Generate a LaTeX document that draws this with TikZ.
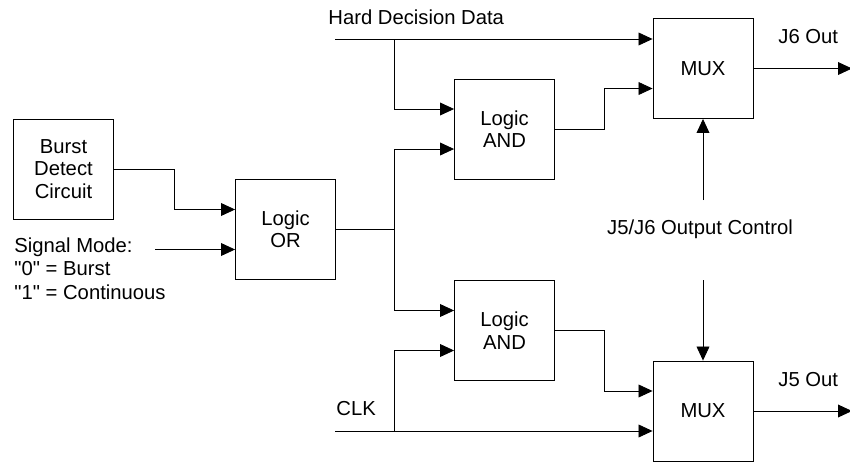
\documentclass[tikz,border=0pt]{standalone}
\usepackage{fontspec}
\setmainfont{Liberation Sans}
\usetikzlibrary{arrows.meta}

\tikzset{
  blk/.style={draw, minimum width=2.5cm, minimum height=2.5cm, align=center, inner sep=0pt},
  lbl/.style={inner sep=0pt}
}

\begin{document}
\begin{tikzpicture}[x=0.025cm, y=-0.025cm, line width=0.6pt,
      -{Triangle[length=3.5mm, width=3.2mm]},
      every node/.append style={font=\fontsize{14.4}{16}\selectfont}]
    \useasboundingbox (0,0) rectangle (850,462);

    % blocks
    \node[blk] (burst) at (63.5,169) {Burst\\Detect\\Circuit};
    \node[blk] (or) at (285.5,229.5) {Logic\\OR};
    \node[blk] (andA) at (504.5,129) {Logic\\AND};
    \node[blk] (andB) at (504.5,330.5) {Logic\\AND};
    \node[blk] (muxA) at (703,68.5) {MUX};
    \node[blk] (muxB) at (703,411) {MUX};

    % labels
    \node[lbl, anchor=west] (hdd) at (328,17) {Hard Decision Data};
    \node[lbl, anchor=west] (clk) at (336,409) {CLK};
    \node[lbl, anchor=west] (j6) at (778,37) {J6 Out};
    \node[lbl, anchor=west] (j5) at (778,380) {J5 Out};
    \node[lbl] (ctrl) at (700,229) {J5/J6 Output Control};
    \node[lbl, anchor=north west, align=left, font=\fontsize{14.4}{16.8}\selectfont] (mode) at (14,237)
      {Signal Mode:\\\textquotedbl 0\textquotedbl{} = Burst\\\textquotedbl 1\textquotedbl{} = Continuous};

    % free ends
    \coordinate (hddIn) at (335,39);
    \coordinate (clkIn) at (335,431);
    \coordinate (modeIn) at (155,249.5);
    \coordinate (orTap) at (394,229.5);
    \coordinate (j6End) at (852,69);
    \coordinate (j5End) at (852,411);
    \coordinate (ctrlUp) at (703,200);
    \coordinate (ctrlDn) at (703,280);

    % into the OR
    \draw (burst.east) -- ++(60,0) |- ([yshift=0.5cm]or.west);
    \draw (modeIn) -- (modeIn -| or.west);
    \draw[-] (or.east) -- (orTap);

    % data and clock
    \draw (hddIn) -- (hddIn -| muxA.west);
    \draw (hddIn -| orTap) |- ([yshift=0.5cm]andA.west);
    \draw (orTap) |- ([yshift=-0.5cm]andA.west);
    \draw (orTap) |- ([yshift=0.5cm]andB.west);
    \draw (clkIn -| orTap) |- ([yshift=-0.5cm]andB.west);
    \draw (clkIn) -- (clkIn -| muxB.west);

    % gates to muxes
    \draw (andA.east) -- ++(49,0) |- ([yshift=-0.5cm]muxA.west);
    \draw (andB.east) -- ++(49,0) |- ([yshift=0.5cm]muxB.west);

    % outputs and control
    \draw (muxA.east) -- (muxA.east -| j6End);
    \draw (muxB.east) -- (muxB.east -| j5End);
    \draw (ctrlUp) -- (muxA.south);
    \draw (ctrlDn) -- (muxB.north);
\end{tikzpicture}
\end{document}
